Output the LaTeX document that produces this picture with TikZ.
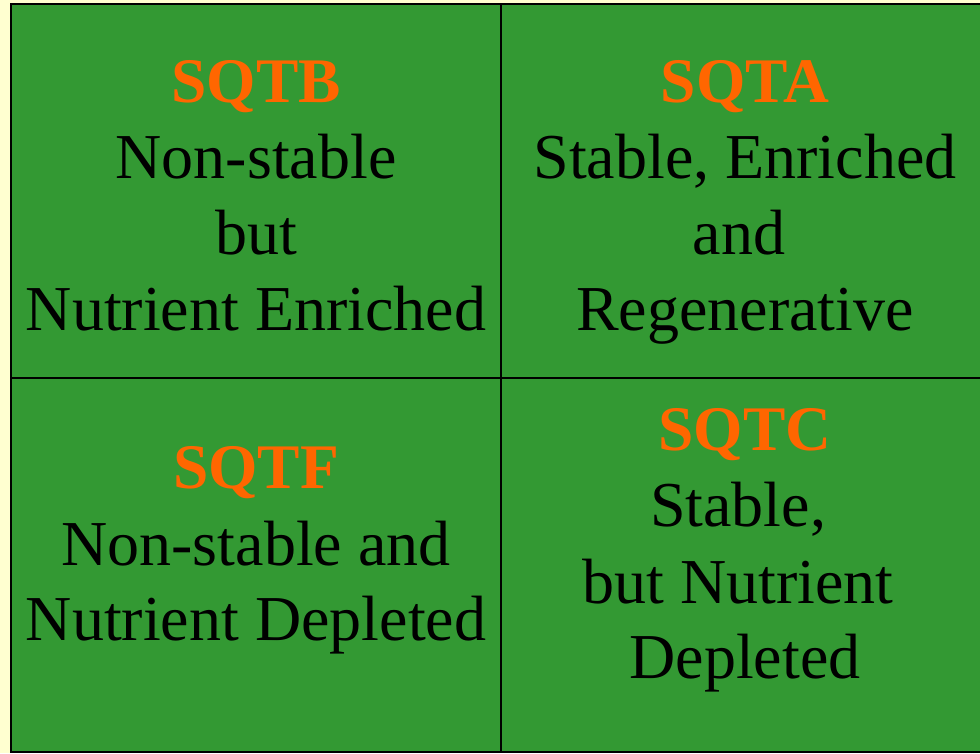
\documentclass[tikz,border=0pt]{standalone}
\usepackage{fontspec}
\setmainfont{Liberation Serif}
\definecolor{paper}{HTML}{FFFFD0}
\definecolor{field}{HTML}{339933}
\definecolor{tag}{HTML}{FF6600}
\tikzset{
  grid line/.style={draw=black, line width=2pt},
  head/.style={anchor=base, inner sep=0pt, text=tag, font=\fontsize{63.5}{76}\selectfont\bfseries},
  body/.style={anchor=base, inner sep=0pt, text=black, font=\fontsize{64}{76}\selectfont},
}
\begin{document}
\begin{tikzpicture}[x=1pt, y=-1pt]
  \useasboundingbox (0,0) rectangle (980,753);
  \fill[paper] (0,0) rectangle (980,753);
  \begin{scope}
    \clip (0,0) rectangle (980,753);
    \fill[field] (11,4) rectangle (996,751.5);
    \draw[grid line] (996,4) -- (11,4) -- (11,751.5) -- (996,751.5);
    \draw[grid line] (501,4) -- (501,751.5);
    \draw[grid line] (11,378) -- (996,378);
  \end{scope}

  % upper left quadrant
  \node[head] (b0) at (256,102) {SQTB};
  \node[body] (b1) at (256,178) {Non-stable};
  \node[body] (b2) at (256,254) {but};
  \node[body] (b3) at (256,330) {Nutrient Enriched};

  % upper right quadrant
  \node[head] (a0) at (745,102) {SQTA};
  \node[body] (a1) at (745,178) {Stable, Enriched};
  \node[body] (a2) at (739,254) {and};
  \node[body] (a3) at (745,330) {Regenerative};

  % lower left quadrant
  \node[head] (f0) at (256,488) {SQTF};
  \node[body] (f1) at (256,565) {Non-stable and};
  \node[body] (f2) at (256,640) {Nutrient Depleted};

  % lower right quadrant
  \node[head] (c0) at (745,450) {SQTC};
  \node[body] (c1) at (738,526) {Stable,};
  \node[body] (c2) at (738,603) {but Nutrient};
  \node[body] (c3) at (745,678) {Depleted};
\end{tikzpicture}
\end{document}
